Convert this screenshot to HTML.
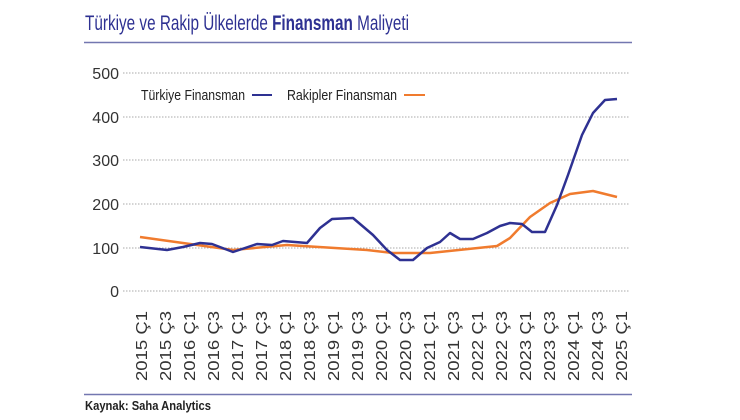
<!DOCTYPE html>
<html><head><meta charset="utf-8"><style>
html,body{margin:0;padding:0;background:#fff;}
svg{display:block;}
.c{font-family:"Liberation Sans",sans-serif;}
.ax{font-family:"Liberation Sans",sans-serif;font-size:16px;fill:#333;}
</style></head><body>
<svg width="740" height="420" viewBox="0 0 740 420" xmlns="http://www.w3.org/2000/svg">
<text x="85" y="30" class="c" font-size="21" fill="#2e3192" textLength="324" lengthAdjust="spacingAndGlyphs">Türkiye ve Rakip Ülkelerde <tspan font-weight="bold">Finansman</tspan> Maliyeti</text>
<line x1="84" y1="42.5" x2="632" y2="42.5" stroke="#7377b0" stroke-width="1.5"/>
<g stroke="#aaa" stroke-width="1" stroke-dasharray="1.5,1.5">
<line x1="123" y1="73" x2="630" y2="73"/>
<line x1="123" y1="117" x2="630" y2="117"/>
<line x1="123" y1="160" x2="630" y2="160"/>
<line x1="123" y1="204" x2="630" y2="204"/>
<line x1="123" y1="248" x2="630" y2="248"/>
<line x1="123" y1="291" x2="630" y2="291"/>
</g>
<g class="ax" text-anchor="end" font-size="17">
<text x="119" y="79">500</text>
<text x="119" y="123">400</text>
<text x="119" y="166">300</text>
<text x="119" y="210">200</text>
<text x="119" y="254">100</text>
<text x="119" y="297">0</text>
</g>
<text x="141" y="100" class="c" font-size="15" fill="#222" textLength="104" lengthAdjust="spacingAndGlyphs">Türkiye Finansman</text>
<line x1="252" y1="95" x2="272" y2="95" stroke="#2e3192" stroke-width="2"/>
<text x="287" y="100" class="c" font-size="15" fill="#222" textLength="110" lengthAdjust="spacingAndGlyphs">Rakipler Finansman</text>
<line x1="404" y1="95" x2="425" y2="95" stroke="#f07b2e" stroke-width="2"/>
<polyline fill="none" stroke="#f07b2e" stroke-width="2.5" stroke-linejoin="round" points="140,237 233,250 287,245 367,250 393,253 430,253 497,246 510,238 530,217 550,203 570,194 593,191 617,197"/>
<polyline fill="none" stroke="#2e3192" stroke-width="2.5" stroke-linejoin="round" points="140,247 167,250 183,247 200,243 212,244 233,252 257,244 272,245 283,241 307,243 320,228 332,219 353,218 373,235 387,250 400,260 413,260 427,248 440,242 450,233 460,239 473,239 487,233 500,226 510,223 522,224 532,232 545,232 557,205 568,175 582,135 593,113 605,100 617,99"/>
<g class="ax" font-size="17">
<text transform="translate(147,381) rotate(-90)" textLength="70" lengthAdjust="spacingAndGlyphs">2015 Ç1</text>
<text transform="translate(171,381) rotate(-90)" textLength="70" lengthAdjust="spacingAndGlyphs">2015 Ç3</text>
<text transform="translate(195,381) rotate(-90)" textLength="70" lengthAdjust="spacingAndGlyphs">2016 Ç1</text>
<text transform="translate(219,381) rotate(-90)" textLength="70" lengthAdjust="spacingAndGlyphs">2016 Ç3</text>
<text transform="translate(243,381) rotate(-90)" textLength="70" lengthAdjust="spacingAndGlyphs">2017 Ç1</text>
<text transform="translate(267,381) rotate(-90)" textLength="70" lengthAdjust="spacingAndGlyphs">2017 Ç3</text>
<text transform="translate(291,381) rotate(-90)" textLength="70" lengthAdjust="spacingAndGlyphs">2018 Ç1</text>
<text transform="translate(315,381) rotate(-90)" textLength="70" lengthAdjust="spacingAndGlyphs">2018 Ç3</text>
<text transform="translate(339,381) rotate(-90)" textLength="70" lengthAdjust="spacingAndGlyphs">2019 Ç1</text>
<text transform="translate(363,381) rotate(-90)" textLength="70" lengthAdjust="spacingAndGlyphs">2019 Ç3</text>
<text transform="translate(387,381) rotate(-90)" textLength="70" lengthAdjust="spacingAndGlyphs">2020 Ç1</text>
<text transform="translate(411,381) rotate(-90)" textLength="70" lengthAdjust="spacingAndGlyphs">2020 Ç3</text>
<text transform="translate(435,381) rotate(-90)" textLength="70" lengthAdjust="spacingAndGlyphs">2021 Ç1</text>
<text transform="translate(459,381) rotate(-90)" textLength="70" lengthAdjust="spacingAndGlyphs">2021 Ç3</text>
<text transform="translate(483,381) rotate(-90)" textLength="70" lengthAdjust="spacingAndGlyphs">2022 Ç1</text>
<text transform="translate(507,381) rotate(-90)" textLength="70" lengthAdjust="spacingAndGlyphs">2022 Ç3</text>
<text transform="translate(531,381) rotate(-90)" textLength="70" lengthAdjust="spacingAndGlyphs">2023 Ç1</text>
<text transform="translate(555,381) rotate(-90)" textLength="70" lengthAdjust="spacingAndGlyphs">2023 Ç3</text>
<text transform="translate(579,381) rotate(-90)" textLength="70" lengthAdjust="spacingAndGlyphs">2024 Ç1</text>
<text transform="translate(603,381) rotate(-90)" textLength="70" lengthAdjust="spacingAndGlyphs">2024 Ç3</text>
<text transform="translate(627,381) rotate(-90)" textLength="70" lengthAdjust="spacingAndGlyphs">2025 Ç1</text>
</g>
<line x1="84" y1="394.5" x2="632" y2="394.5" stroke="#7377b0" stroke-width="1.5"/>
<text x="85" y="410" class="c" font-size="13" font-weight="bold" fill="#222" textLength="126" lengthAdjust="spacingAndGlyphs">Kaynak: Saha Analytics</text>
</svg>
</body></html>
